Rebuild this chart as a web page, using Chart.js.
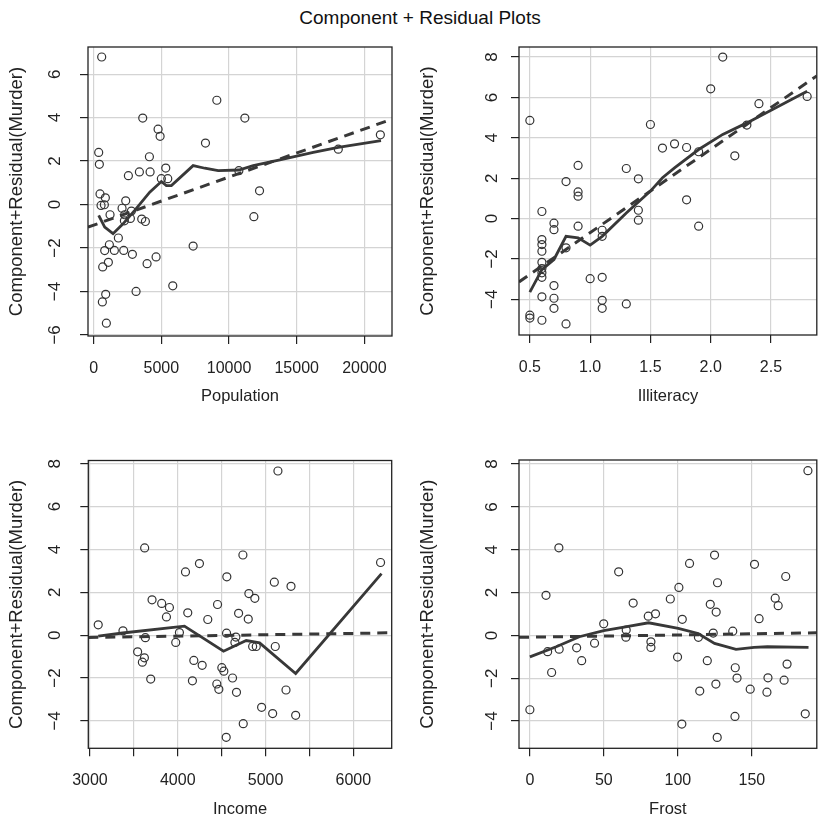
<!DOCTYPE html>
<html>
<head>
<meta charset="utf-8">
<script src="https://cdn.jsdelivr.net/npm/chart.js@4.4.1/dist/chart.umd.min.js"></script>
<style>
  body { margin: 0; background: #fff; }
  #wrap { position: relative; width: 822px; height: 819px; overflow: hidden; }
  canvas { position: absolute; }
  #title { position: absolute; left: 0; top: 8px; width: 840px; text-align: center;
           font: 19px "Liberation Sans", Arial, sans-serif; color: #111; line-height: 1; }
</style>
</head>
<body>
<div id="wrap">
  <div id="title">Component + Residual Plots</div>
  <canvas id="c1" width="411" height="410" style="left:0;top:0"></canvas>
  <canvas id="c2" width="411" height="410" style="left:411px;top:0"></canvas>
  <canvas id="c3" width="411" height="409" style="left:0;top:410px"></canvas>
  <canvas id="c4" width="411" height="409" style="left:411px;top:410px"></canvas>
</div>
<script>
// Population panel
const popX = [592, 9098, 3624, 11169, 4758, 4907, 8259, 370, 21180, 18072, 419, 4117, 2564, 3377, 4167, 5325, 5000, 5473, 10725, 12253,
  11834, 468, 863, 543, 789, 1208, 2367, 2096, 2293, 2268, 2786, 2712, 3550, 3821, 1824, 1159, 814, 1528, 2219, 2860,
  7347, 4610, 3945, 1085, 666, 5843, 3131, 888, 641, 937];
const popY = [6.79, 4.80, 3.98, 3.98, 3.47, 3.14, 2.83, 2.40, 3.21, 2.55, 1.85, 2.20, 1.33, 1.50, 1.50, 1.68, 1.19, 1.19, 1.56, 0.63,
  -0.56, 0.49, 0.31, -0.04, -0.01, -0.47, 0.17, -0.17, -0.47, -0.75, -0.30, -0.64, -0.67, -0.78, -1.54, -1.85, -2.12, -2.11, -2.11, -2.29,
  -1.91, -2.41, -2.72, -2.66, -2.87, -3.74, -4.00, -4.13, -4.48, -5.46];
const popFitX = [370, 814, 1430, 2170, 3033, 4142, 5000, 5370, 5740, 7347, 8210, 9197, 10725, 11785, 13757, 16223, 18072, 21228];
const popFitY = [-0.50, -1.04, -1.34, -0.89, -0.27, 0.57, 1.06, 0.87, 0.87, 1.79, 1.67, 1.56, 1.59, 1.79, 2.06, 2.40, 2.63, 2.94];
const popLineX = [-420, 22040];
const popLineY = [-1.04, 3.93];

// Illiteracy panel
const illX = [0.5, 2.1, 2.0, 2.8, 2.4, 1.5, 2.3, 1.6, 1.7, 1.8, 1.9, 2.2, 0.9, 1.3, 0.8, 0.9, 0.9, 1.4, 1.8, 1.4,
  1.4, 1.9, 0.6, 0.7, 0.7, 0.9, 1.1, 1.1, 0.6, 0.6, 0.6, 0.8, 0.6, 0.6, 0.6, 0.6, 1.0, 1.1, 0.7, 0.6,
  0.7, 1.1, 1.3, 0.7, 1.1, 0.5, 0.5, 0.6, 0.8];
const illY = [4.86, 8.00, 6.43, 6.05, 5.69, 4.66, 4.63, 3.49, 3.70, 3.52, 3.31, 3.11, 2.63, 2.48, 1.83, 1.32, 1.11, 1.97, 0.93, 0.41,
  -0.08, -0.38, 0.35, -0.23, -0.55, -0.38, -0.58, -0.88, -1.04, -1.29, -1.62, -1.45, -2.17, -2.48, -2.69, -2.91, -2.98, -2.91, -3.32, -3.88,
  -3.95, -4.05, -4.23, -4.45, -4.45, -4.79, -4.93, -5.04, -5.22];
const illFitX = [0.5, 0.6, 0.7, 0.8, 0.9, 1.0, 1.1, 1.3, 1.5, 1.6, 1.7, 1.9, 2.1, 2.3, 2.8];
const illFitY = [-3.65, -2.53, -2.03, -0.88, -0.96, -1.32, -0.88, 0.28, 1.36, 2.02, 2.51, 3.42, 4.17, 4.74, 6.31];
const illLineX = [0.41, 2.88];
const illLineY = [-3.14, 7.07];

// Income panel
const incX = [5141, 3623, 4742, 4247, 6310, 4088, 4559, 5100, 5290, 4810, 4878, 3707, 3817, 3905, 4453, 3871, 4114, 4342, 4693, 4803,
  3094, 3376, 4019, 4556, 4662, 3631, 3977, 4651, 4853, 4894, 5111, 3543, 3620, 3597, 4183, 4278, 4502, 4525, 3692, 4167,
  4624, 4445, 4468, 4669, 5233, 4955, 5081, 5343, 4746, 4552];
const incY = [7.66, 4.07, 3.74, 3.34, 3.39, 2.95, 2.72, 2.47, 2.28, 1.94, 1.72, 1.65, 1.48, 1.29, 1.43, 0.85, 1.04, 0.73, 1.02, 0.75,
  0.48, 0.20, 0.12, 0.09, -0.09, -0.12, -0.34, -0.34, -0.53, -0.53, -0.53, -0.78, -1.06, -1.26, -1.18, -1.41, -1.52, -1.68, -2.05, -2.13,
  -2.00, -2.28, -2.53, -2.67, -2.56, -3.37, -3.66, -3.74, -4.13, -4.77];
const incFitX = [3094, 3372, 4076, 4521, 4780, 4932, 5343, 6321];
const incFitY = [-0.05, 0.10, 0.42, -0.75, -0.25, -0.36, -1.79, 2.87];
const incLineX = [2981, 6437];
const incLineY = [-0.11, 0.11];

// Frost panel
const frostX = [187.9, 19.6, 124.8, 107.9, 151.8, 60.0, 172.9, 126.8, 100.7, 10.9, 165.8, 167.8, 94.9, 69.8, 121.9, 125.9, 84.9, 80.0, 154.9, 103.0,
  49.9, 65.1, 137.1, 123.9, 64.9, 113.9, 81.8, 81.8, 43.7, 31.6, 19.8, 12.0, 35.0, 99.8, 119.9, 173.8, 138.8, 14.7, 140.0, 160.9,
  171.8, 125.7, 148.9, 114.8, 160.2, 0, 138.6, 186.1, 102.7, 126.6];
const frostY = [7.69, 4.09, 3.75, 3.36, 3.32, 2.97, 2.75, 2.46, 2.24, 1.87, 1.74, 1.39, 1.70, 1.51, 1.45, 1.09, 1.01, 0.90, 0.78, 0.75,
  0.54, 0.25, 0.20, 0.11, -0.08, -0.09, -0.30, -0.56, -0.36, -0.58, -0.64, -0.76, -1.18, -1.01, -1.18, -1.34, -1.51, -1.73, -1.99, -1.98,
  -2.09, -2.27, -2.51, -2.60, -2.65, -3.47, -3.78, -3.66, -4.14, -4.76];
const frostFitX = [0, 17.8, 33.4, 49.9, 64.6, 80.2, 100.3, 113.7, 124.8, 139.3, 151.5, 160.5, 188.3];
const frostFitY = [-1.00, -0.53, -0.06, 0.22, 0.40, 0.59, 0.33, 0.09, -0.37, -0.65, -0.56, -0.53, -0.56];
const frostLineX = [-7.35, 193.9];
const frostLineY = [-0.09, 0.12];

// tick values
const popTicks = [0, 5000, 10000, 15000, 20000];
const illTicks = [0.5, 1.0, 1.5, 2.0, 2.5];
const incTicks = [3000, 3500, 4000, 4500, 5000, 5500, 6000];
const frostTicks = [0, 50, 100, 150];
const murderTicksPop = [-6, -4, -2, 0, 2, 4, 6];
const murderTicks = [-4, -2, 0, 2, 4, 6, 8];

const FONT = '"Liberation Sans", Arial, Helvetica, sans-serif';
const INK = '#222';
const LINE = '#383838';

function zip(xs, ys) {
  return xs.map((x, i) => ({ x: x, y: ys[i] }));
}

function minus(v) {
  return String(v).replace('-', '\u2212');
}

// box round the plot and the rotated y tick labels, like base R
const framePlugin = {
  id: 'frame',
  afterDraw(chart, args, opts) {
    const ctx = chart.ctx;
    const a = chart.chartArea;
    const ys = chart.scales.y;
    ctx.save();
    ctx.strokeStyle = INK;
    ctx.lineWidth = 1.3;
    ctx.strokeRect(a.left, a.top, a.right - a.left, a.bottom - a.top);
    ctx.fillStyle = INK;
    ctx.font = '17px ' + FONT;
    ctx.textAlign = 'center';
    ctx.textBaseline = 'middle';
    ys.ticks.forEach(t => {
      const y = ys.getPixelForValue(t.value);
      ctx.save();
      ctx.translate(opts.labelX, y);
      ctx.rotate(-Math.PI / 2);
      ctx.fillText(minus(t.value), 0, 0);
      ctx.restore();
    });
    ctx.restore();
  }
};

function makePanel(id, p) {
  new Chart(document.getElementById(id), {
    type: 'scatter',
    data: {
      datasets: [
        { data: zip(p.fitX, p.fitY), showLine: true, borderColor: LINE, borderWidth: 2.8, pointRadius: 0, tension: 0 },
        { data: zip(p.lineX, p.lineY), showLine: true, borderColor: LINE, borderWidth: 3, borderDash: [10, 7], pointRadius: 0 },
        { data: zip(p.x, p.y), pointRadius: 4, pointBorderWidth: 1.2, pointBorderColor: '#333',
          pointBackgroundColor: 'rgba(0,0,0,0)', showLine: false }
      ]
    },
    options: {
      responsive: false,
      animation: false,
      events: [],
      layout: { padding: { top: p.top, right: p.right, bottom: 0, left: 0 } },
      plugins: { legend: { display: false }, tooltip: { enabled: false }, frame: { labelX: p.labelX } },
      scales: {
        x: {
          type: 'linear', min: p.xMin, max: p.xMax,
          afterBuildTicks: s => { s.ticks = p.xTicks.map(v => ({ value: v })); },
          afterFit: s => { s.height = p.xh; },
          border: { display: false },
          grid: { color: '#d4d4d4', lineWidth: 1.2, tickColor: INK, tickLength: 8 },
          ticks: { font: { family: FONT, size: 16 }, color: INK, padding: 15, maxRotation: 0, autoSkip: false,
                   callback: p.xLabel },
          title: { display: true, text: p.xTitle, color: INK, font: { family: FONT, size: 16.5 },
                   padding: { top: 0, bottom: p.titleBottom } }
        },
        y: {
          type: 'linear', min: p.yMin, max: p.yMax,
          afterBuildTicks: s => { s.ticks = p.yTicks.map(v => ({ value: v })); },
          afterFit: s => { s.width = p.yw; },
          border: { display: false },
          grid: { color: '#d4d4d4', lineWidth: 1.2, tickColor: INK, tickLength: 8 },
          ticks: { display: false },
          title: { display: true, text: 'Component+Residual(Murder)', color: INK,
                   font: { family: FONT, size: 18.5 }, padding: { top: 6 } }
        }
      }
    },
    plugins: [framePlugin]
  });
}

makePanel('c1', {
  x: popX, y: popY, fitX: popFitX, fitY: popFitY, lineX: popLineX, lineY: popLineY,
  xTicks: popTicks, yTicks: murderTicksPop, xTitle: 'Population', xLabel: v => String(v),
  xMin: -420, xMax: 22040, yMin: -6.05, yMax: 7.25,
  top: 47, right: 19, yw: 88, xh: 74, labelX: 55, titleBottom: 4
});

makePanel('c2', {
  x: illX, y: illY, fitX: illFitX, fitY: illFitY, lineX: illLineX, lineY: illLineY,
  xTicks: illTicks, yTicks: murderTicks, xTitle: 'Illiteracy', xLabel: v => Number(v).toFixed(1),
  xMin: 0.41, xMax: 2.88, yMin: -5.77, yMax: 8.5,
  top: 47, right: 2, yw: 108, xh: 75, labelX: 81, titleBottom: 4
});

makePanel('c3', {
  x: incX, y: incY, fitX: incFitX, fitY: incFitY, lineX: incLineX, lineY: incLineY,
  xTicks: incTicks, yTicks: murderTicks, xTitle: 'Income', xLabel: v => (v % 1000 === 0 ? String(v) : ''),
  xMin: 2981, xMax: 6437, yMin: -5.28, yMax: 8.15,
  top: 50.5, right: 19.3, yw: 88.3, xh: 70.7, labelX: 55, titleBottom: 0
});

makePanel('c4', {
  x: frostX, y: frostY, fitX: frostFitX, fitY: frostFitY, lineX: frostLineX, lineY: frostLineY,
  xTicks: frostTicks, yTicks: murderTicks, xTitle: 'Frost', xLabel: v => String(v),
  xMin: -7.35, xMax: 193.9, yMin: -5.27, yMax: 8.19,
  top: 50, right: 2, yw: 108, xh: 70.7, labelX: 81, titleBottom: 0
});
</script>
</body>
</html>
